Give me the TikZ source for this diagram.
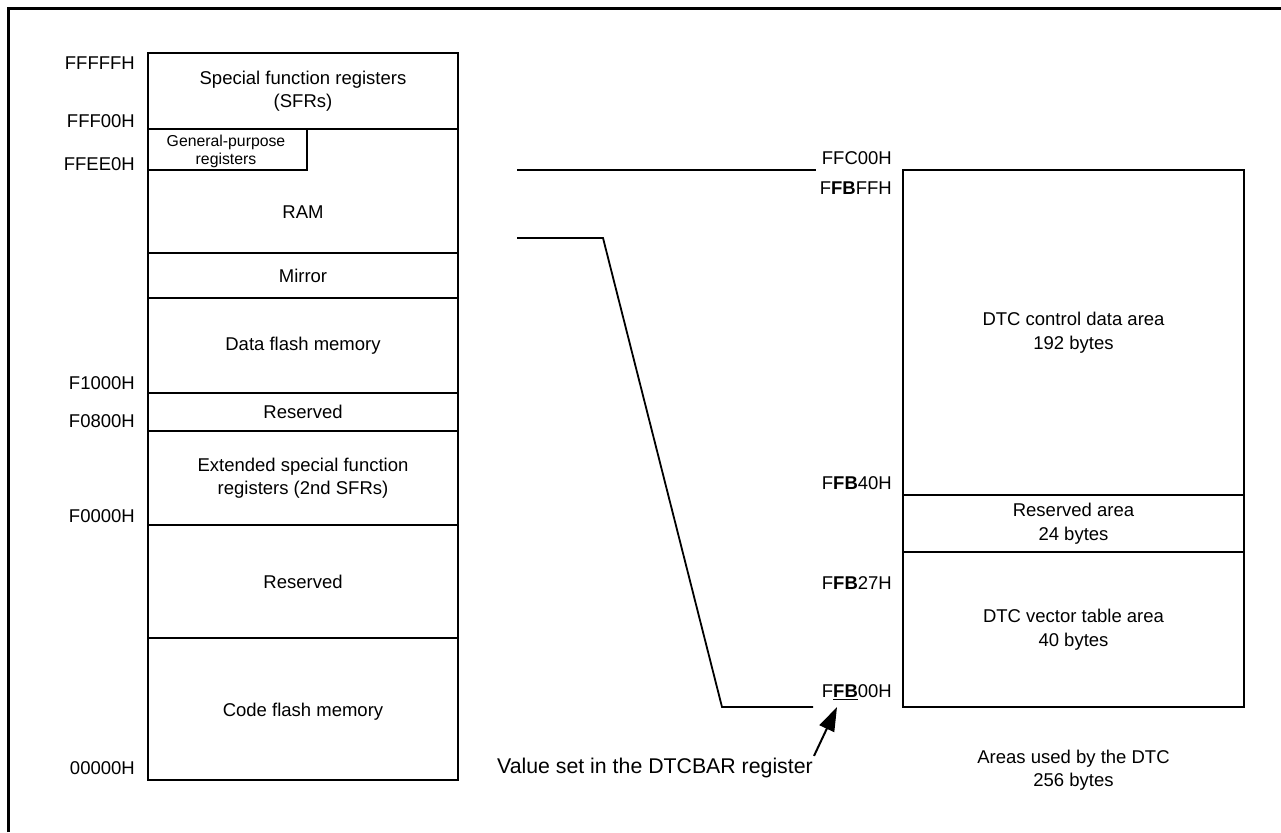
\documentclass[tikz,border=0pt]{standalone}
\usepackage{fontspec}
\setmainfont{Liberation Sans}
\usetikzlibrary{arrows.meta}
\begin{document}
\begin{tikzpicture}[x=1pt,y=-1pt,
  every node/.style={inner sep=0pt, font=\fontsize{18.5}{23.5}\selectfont},
  region/.style={draw, line width=1.8pt, align=center},
  addr/.style={anchor=east},
  conn/.style={line width=1.8pt}]
\useasboundingbox (0,0) rectangle (1281,832);
% outer frame (open at right and bottom)
\draw[line width=3pt] (8.5,832) -- (8.5,8.5) -- (1281,8.5);
% left memory map
\node[region, minimum width=310, minimum height=76] (sfr) at (303,91) {};
\node[align=center] (sfrt) at (303,91) {Special function registers\\(SFRs)};
\node[region, minimum width=310, minimum height=124] (ram) at (303,191) {};
\node (ramt) at (303,212) {RAM};
\node[region, minimum width=159, minimum height=41] (gpr) at (227.5,149.5) {};
\node[align=center, font=\fontsize{15.8}{18}\selectfont] (gprt) at (226,151) {General-purpose\\registers};
\node[region, minimum width=310, minimum height=45] (mir) at (303,275.5) {Mirror};
\node[region, minimum width=310, minimum height=95] (dfl) at (303,345.5) {Data flash memory};
\node[region, minimum width=310, minimum height=38] (res1) at (303,412) {Reserved};
\node[region, minimum width=310, minimum height=94] (esfr) at (303,478) {Extended special function\\registers (2nd SFRs)};
\node[region, minimum width=310, minimum height=113] (res2) at (303,581.5) {Reserved};
\node[region, minimum width=310, minimum height=142] (cfl) at (303,709) {};
\node (cflt) at (303,712) {Code flash memory};
% left addresses
\node[addr] (a1) at (135,63) {FFFFFH};
\node[addr] (a2) at (135,121) {FFF00H};
\node[addr] (a3) at (135,164) {FFEE0H};
\node[addr] (a4) at (135,383) {F1000H};
\node[addr] (a5) at (135,421) {F0800H};
\node[addr] (a6) at (135,516) {F0000H};
\node[addr] (a7) at (135,768) {00000H};
% right DTC area
\node[region, minimum width=341, minimum height=325] (ctl) at (1073.5,332.5) {DTC control data area\\192 bytes};
\node[region, minimum width=341, minimum height=57] (rsv) at (1073.5,523.5) {Reserved area\\24 bytes};
\node[region, minimum width=341, minimum height=155] (vec) at (1073.5,629.5) {DTC vector table area\\40 bytes};
\node[align=center] (used) at (1073.5,770) {Areas used by the DTC\\256 bytes};
% right addresses
\node[addr] (b1) at (892,158) {FFC00H};
\node[addr] (b2) at (892,188) {F\textbf{FB}FFH};
\node[addr] (b3) at (892,483) {F\textbf{FB}40H};
\node[addr] (b4) at (892,583) {F\textbf{FB}27H};
\node[addr] (b5) at (892,692) {F\underline{\textbf{FB}}00H};
% connectors
\coordinate (l1a) at (517,170);
\coordinate (l1b) at (816,170);
\draw[conn] (l1a) -- (l1b);
\coordinate (l2a) at (517,238);
\coordinate (l2b) at (603,238);
\coordinate (l2c) at (722,707);
\coordinate (l2d) at (813,707);
\draw[conn] (l2a) -- (l2b) -- (l2c) -- (l2d);
% DTCBAR annotation
\node[anchor=east, font=\fontsize{21.3}{25}\selectfont] (dtcbar) at (813,768) {Value set in the DTCBAR register};
\coordinate (tip) at (837,707);
\draw[line width=2pt, -{Triangle[length=24pt,width=16pt]}] (dtcbar.north east) ++(1,-2) -- (tip);
\end{tikzpicture}
\end{document}
